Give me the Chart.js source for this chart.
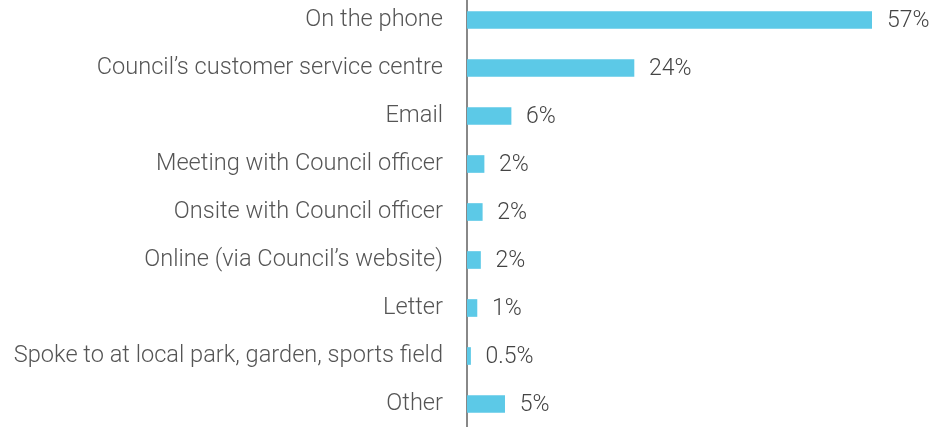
<!DOCTYPE html>
<html>
<head>
<meta charset="utf-8">
<script src="https://cdn.jsdelivr.net/npm/chart.js@4.4.1/dist/chart.umd.min.js"></script>
<style>
  html, body { margin: 0; padding: 0; background: #fff; overflow: hidden; }
  #c { position: absolute; left: 0; top: -4px; }
</style>
</head>
<body>
<canvas id="c" width="934" height="432"></canvas>
<script>
const categories = [
  "On the phone",
  "Council\u2019s customer service centre",
  "Email",
  "Meeting with Council officer",
  "Onsite with Council officer",
  "Online (via Council\u2019s website)",
  "Letter",
  "Spoke to at local park, garden, sports field",
  "Other"
];
const values = [57, 23.5, 6.2, 2.4, 2.15, 1.9, 1.4, 0.5, 5.3];
const valueLabels = ["57%", "24%", "6%", "2%", "2%", "2%", "1%", "0.5%", "5%"];

const FONT = "Roboto, 'Liberation Sans', sans-serif";

const valueLabelPlugin = {
  id: 'valueLabels',
  afterDatasetsDraw(chart) {
    const ctx = chart.ctx;
    const meta = chart.getDatasetMeta(0);
    ctx.save();
    ctx.font = "300 23px " + FONT;
    ctx.fillStyle = '#444';
    ctx.textAlign = 'left';
    ctx.textBaseline = 'middle';
    meta.data.forEach((bar, i) => {
      ctx.fillText(valueLabels[i], bar.x + 15, bar.y + 1);
    });
    ctx.restore();
  }
};

new Chart(document.getElementById('c'), {
  type: 'bar',
  data: {
    labels: categories,
    datasets: [{
      data: values,
      backgroundColor: '#5CC9E7',
      borderWidth: 0,
      barThickness: 17
    }]
  },
  options: {
    indexAxis: 'y',
    responsive: false,
    animation: false,
    layout: { padding: { left: 0, right: 62, top: 0, bottom: 0 } },
    plugins: { legend: { display: false }, tooltip: { enabled: false } },
    scales: {
      x: {
        display: false,
        min: 0,
        max: 57
      },
      y: {
        afterFit(scale) {
          scale.width = 467;
          scale.paddingTop = 0;
          scale.paddingBottom = 0;
        },
        grid: { display: false },
        border: { display: true, color: '#888', width: 2 },
        ticks: {
          color: '#555',
          padding: 16,
          font: { family: FONT, size: 23.6, weight: '300' }
        }
      }
    }
  },
  plugins: [valueLabelPlugin]
});
</script>
</body>
</html>
